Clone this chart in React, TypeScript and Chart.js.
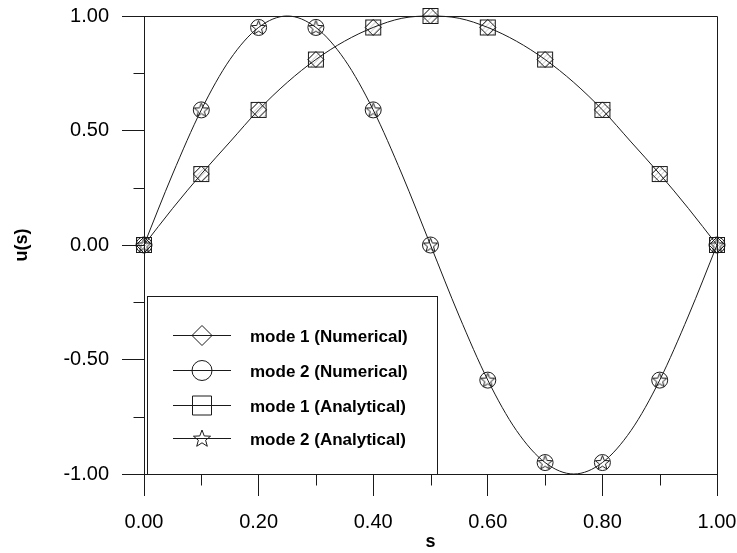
import React, { useEffect, useRef } from 'react';
import { Chart, registerables } from 'chart.js';

Chart.register(...registerables);

// ---- data ----
const sValues = [0.0, 0.1, 0.2, 0.3, 0.4, 0.5, 0.6, 0.7, 0.8, 0.9, 1.0];
const mode1Numerical = [0.0, 0.31, 0.59, 0.81, 0.95, 1.0, 0.95, 0.81, 0.59, 0.31, 0.0];
const mode2Numerical = [0.0, 0.59, 0.95, 0.95, 0.59, 0.0, -0.59, -0.95, -0.95, -0.59, 0.0];
const mode1Analytical = [0.0, 0.31, 0.59, 0.81, 0.95, 1.0, 0.95, 0.81, 0.59, 0.31, 0.0];
const mode2Analytical = [0.0, 0.59, 0.95, 0.95, 0.59, 0.0, -0.59, -0.95, -0.95, -0.59, 0.0];

// curve at half steps
const curveS = [0.0, 0.05, 0.1, 0.15, 0.2, 0.25, 0.3, 0.35, 0.4, 0.45, 0.5, 0.55, 0.6, 0.65, 0.7, 0.75, 0.8, 0.85, 0.9, 0.95, 1.0];
const mode1Curve = [0.0, 0.16, 0.31, 0.45, 0.59, 0.71, 0.81, 0.89, 0.95, 0.99, 1.0, 0.99, 0.95, 0.89, 0.81, 0.71, 0.59, 0.45, 0.31, 0.16, 0.0];
const mode2Curve = [0.0, 0.31, 0.59, 0.81, 0.95, 1.0, 0.95, 0.81, 0.59, 0.31, 0.0, -0.31, -0.59, -0.81, -0.95, -1.0, -0.95, -0.81, -0.59, -0.31, 0.0];

const xMajorTicks = [0.0, 0.2, 0.4, 0.6, 0.8, 1.0];
const xMinorTicks = [0.1, 0.3, 0.5, 0.7, 0.9];
const yMajorTicks = [-1.0, -0.5, 0.0, 0.5, 1.0];
const yMinorTicks = [-0.75, -0.25, 0.25, 0.75];

const seriesLabels = ['mode 1 (Numerical)', 'mode 2 (Numerical)', 'mode 1 (Analytical)', 'mode 2 (Analytical)'];
const xTitle = 's';
const yTitle = 'u(s)';

const FONT = "'Liberation Sans', Arial, Helvetica, sans-serif";
const INK = '#1a1a1a';

function starPath(ctx: CanvasRenderingContext2D, cx: number, cy: number, ro: number, ri: number) {
  ctx.beginPath();
  for (let i = 0; i < 10; i++) {
    const r = i % 2 === 0 ? ro : ri;
    const a = -Math.PI / 2 + (i * Math.PI) / 5;
    const x = cx + r * Math.cos(a);
    const y = cy + r * Math.sin(a);
    if (i === 0) ctx.moveTo(x, y);
    else ctx.lineTo(x, y);
  }
  ctx.closePath();
}

function makeStarCanvas(ro: number) {
  const c = document.createElement('canvas');
  const size = Math.ceil(ro * 2 + 4);
  c.width = size;
  c.height = size;
  const ctx = c.getContext('2d')!;
  ctx.strokeStyle = INK;
  ctx.lineWidth = 1;
  starPath(ctx, size / 2, size / 2 + 0.5, ro, ro * 0.42);
  ctx.stroke();
  return c;
}

function makeHatchedSquare(half: number) {
  const c = document.createElement('canvas');
  const size = Math.ceil(half * 2 + 2);
  c.width = size;
  c.height = size;
  const ctx = c.getContext('2d')!;
  const o = (size - half * 2) / 2;
  ctx.save();
  ctx.beginPath();
  ctx.rect(o, o, half * 2, half * 2);
  ctx.clip();
  ctx.strokeStyle = 'rgba(30,30,30,0.35)';
  ctx.lineWidth = 0.8;
  for (let k = -size; k < size * 2; k += 5) {
    ctx.beginPath();
    ctx.moveTo(k, size);
    ctx.lineTo(k + size, 0);
    ctx.stroke();
  }
  ctx.restore();
  ctx.strokeStyle = INK;
  ctx.lineWidth = 1;
  ctx.strokeRect(o + 0.5, o + 0.5, half * 2 - 1, half * 2 - 1);
  return c;
}

const frameAndTicksPlugin = {
  id: 'frameAndTicks',
  afterDraw(chart: any) {
    const { ctx, chartArea, scales } = chart;
    ctx.save();
    ctx.strokeStyle = INK;
    ctx.lineWidth = 1;
    ctx.beginPath();
    ctx.moveTo(Math.round(chartArea.left) + 0.5, Math.round(chartArea.top) + 0.5);
    ctx.lineTo(Math.round(chartArea.right) + 0.5, Math.round(chartArea.top) + 0.5);
    ctx.lineTo(Math.round(chartArea.right) + 0.5, Math.round(chartArea.bottom) + 0.5);
    ctx.stroke();
    const xb = Math.round(chartArea.bottom) + 0.5;
    xMinorTicks.forEach((v) => {
      const px = Math.round(scales.x.getPixelForValue(v)) + 0.5;
      ctx.beginPath();
      ctx.moveTo(px, xb);
      ctx.lineTo(px, xb + 11);
      ctx.stroke();
    });
    const yl = Math.round(chartArea.left) + 0.5;
    yMinorTicks.forEach((v) => {
      const py = Math.round(scales.y.getPixelForValue(v)) + 0.5;
      ctx.beginPath();
      ctx.moveTo(yl, py);
      ctx.lineTo(yl - 11, py);
      ctx.stroke();
    });
    ctx.restore();
  },
};

const boxLegendPlugin = {
  id: 'boxLegend',
  afterDraw(chart: any) {
    const { ctx, chartArea } = chart;
    const left = 147.5;
    const top = 296.5;
    const right = 437.5;
    const bottom = Math.round(chartArea.bottom) + 0.5;
    ctx.save();
    ctx.fillStyle = '#ffffff';
    ctx.fillRect(left, top, right - left, bottom - top);
    ctx.strokeStyle = INK;
    ctx.lineWidth = 1;
    ctx.strokeRect(left, top, right - left, bottom - top);
    const rows = [335, 370, 405, 438];
    const mx = 202;
    seriesLabels.forEach((label, i) => {
      const y = rows[i] + 0.5;
      ctx.strokeStyle = INK;
      ctx.lineWidth = 1;
      ctx.beginPath();
      ctx.moveTo(173, y);
      ctx.lineTo(231, y);
      ctx.stroke();
      ctx.fillStyle = '#ffffff';
      ctx.beginPath();
      if (i === 0) {
        ctx.moveTo(mx, y - 10);
        ctx.lineTo(mx + 10, y);
        ctx.lineTo(mx, y + 10);
        ctx.lineTo(mx - 10, y);
        ctx.closePath();
      } else if (i === 1) {
        ctx.arc(mx, y, 10, 0, Math.PI * 2);
      } else if (i === 2) {
        ctx.rect(mx - 9.5, y - 9.5, 19, 19);
      } else {
        starPath(ctx, mx, y + 0.5, 9, 3.8);
      }
      ctx.fill();
      ctx.stroke();
      ctx.beginPath();
      ctx.moveTo(mx - 10, y);
      ctx.lineTo(mx + 10, y);
      ctx.stroke();
      ctx.fillStyle = '#000000';
      ctx.font = `bold 17px ${FONT}`;
      ctx.textBaseline = 'middle';
      ctx.textAlign = 'left';
      ctx.fillText(label, 250, rows[i] + 2);
    });
    ctx.restore();
  },
};

const zeroPad = (scale: any) => {
  scale.paddingLeft = 0;
  scale.paddingRight = 0;
  scale.paddingTop = 0;
  scale.paddingBottom = 0;
};

export default function App() {
  const ref = useRef<HTMLCanvasElement | null>(null);

  useEffect(() => {
    document.body.style.margin = '0';
    const canvas = ref.current;
    if (!canvas) return;
    const star = makeStarCanvas(7.5);
    const square = makeHatchedSquare(8);

    const pts = (ys: number[]) => sValues.map((s, i) => ({ x: s, y: ys[i] }));
    const curve = (ys: number[]) => curveS.map((s, i) => ({ x: s, y: ys[i] }));

    const lineBase = {
      type: 'line' as const,
      showLine: true,
      borderColor: INK,
      borderWidth: 1,
      pointRadius: 0,
      cubicInterpolationMode: 'monotone' as const,
      clip: false as any,
      fill: false,
    };
    const markerBase = {
      type: 'line' as const,
      showLine: false,
      borderColor: INK,
      borderWidth: 1,
      pointBorderWidth: 1,
      pointBackgroundColor: 'rgba(0,0,0,0)',
      clip: false as any,
    };

    const chart = new Chart(canvas, {
      type: 'line',
      data: {
        datasets: [
          { ...markerBase, label: seriesLabels[0], data: pts(mode1Numerical), pointStyle: 'rectRot', pointRadius: 8 },
          { ...markerBase, label: seriesLabels[1], data: pts(mode2Numerical), pointStyle: 'circle', pointRadius: 8 },
          { ...markerBase, label: seriesLabels[2], data: pts(mode1Analytical), pointStyle: square as any, pointRadius: 8 },
          { ...markerBase, label: seriesLabels[3], data: pts(mode2Analytical), pointStyle: star as any, pointRadius: 8 },
          { ...lineBase, label: 'curve1', data: curve(mode1Curve) },
          { ...lineBase, label: 'curve2', data: curve(mode2Curve) },
        ] as any,
      },
      options: {
        responsive: false,
        animation: false,
        parsing: false as any,
        layout: { padding: { top: 16, right: 20, left: 0, bottom: 0 } },
        plugins: { legend: { display: false }, tooltip: { enabled: false }, title: { display: false } },
        scales: {
          x: {
            type: 'linear',
            min: 0,
            max: 1,
            afterBuildTicks: (scale: any) => {
              scale.ticks = xMajorTicks.map((v) => ({ value: v }));
            },
            afterFit: (scale: any) => {
              scale.height = 79;
              zeroPad(scale);
            },
            ticks: {
              color: '#000',
              font: { family: FONT, size: 20 },
              padding: 14,
              maxRotation: 0,
              autoSkip: false,
              callback: (v: any) => Number(v).toFixed(2),
            },
            grid: { drawOnChartArea: false, drawTicks: true, tickLength: 22, color: INK, tickColor: INK },
            border: { display: true, color: INK, width: 1 },
            title: { display: true, text: xTitle, color: '#000', font: { family: FONT, size: 18, weight: 'bold' }, padding: { top: 0, bottom: 0 } },
          },
          y: {
            type: 'linear',
            min: -1,
            max: 1,
            afterBuildTicks: (scale: any) => {
              scale.ticks = yMajorTicks.map((v) => ({ value: v }));
            },
            afterFit: (scale: any) => {
              scale.width = 144;
              zeroPad(scale);
            },
            ticks: {
              color: '#000',
              font: { family: FONT, size: 20 },
              padding: 13,
              autoSkip: false,
              callback: (v: any) => Number(v).toFixed(2),
            },
            grid: { drawOnChartArea: false, drawTicks: true, tickLength: 22, color: INK, tickColor: INK },
            border: { display: true, color: INK, width: 1 },
            title: { display: true, text: yTitle, color: '#000', font: { family: FONT, size: 18, weight: 'bold' }, padding: { top: 11, bottom: 0 } },
          },
        },
      },
      plugins: [frameAndTicksPlugin, boxLegendPlugin],
    } as any);

    return () => chart.destroy();
  }, []);

  return (
    <div style={{ width: 737, height: 553, background: '#fff' }}>
      <canvas ref={ref} width={737} height={553} style={{ display: 'block' }} />
    </div>
  );
}
